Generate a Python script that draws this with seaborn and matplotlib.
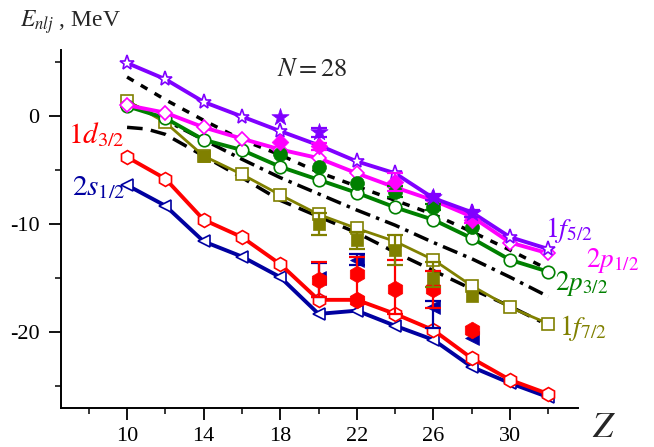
import numpy as np
import pandas as pd
import matplotlib
matplotlib.use("Agg")
import matplotlib.pyplot as plt
import seaborn as sns

# ---------------- data ----------------
Z = [10, 12, 14, 16, 18, 20, 22, 24, 26, 28, 30, 32]
E_1f52 = [4.9, 3.4, 1.3, -0.05, -1.4, -2.7, -4.2, -5.3, -7.6, -8.9, -11.2, -12.3]
E_2p12 = [1.0, 0.3, -1.05, -2.1, -3.1, -3.9, -5.3, -6.6, -7.8, -9.3, -11.7, -12.7]
E_2p32 = [0.9, -0.2, -2.2, -3.15, -4.7, -5.9, -7.1, -8.45, -9.6, -11.3, -13.3, -14.4]
E_1f72 = [1.4, -0.6, -3.7, -5.4, -7.3, -9.1, -10.4, -11.6, -13.3, -15.7, -17.7, -19.2]
E_1d32 = [-3.8, -5.8, -9.6, -11.2, -13.7, -17.0, -17.0, -18.3, -19.8, -22.4, -24.4, -25.7]
E_2s12 = [-6.4, -8.3, -11.6, -13.0, -14.9, -18.3, -18.0, -19.4, -20.7, -23.2, -24.7, -26.0]

# black reference curves
Z_A = [10, 12, 14, 16, 18, 20, 22, 24, 26, 28, 30, 32]
E_A = [3.6, 1.5, -0.4, -2.2, -3.6, -5.2, -6.5, -7.8, -9.1, -10.7, -12.4, -14.2]
Z_B = [10, 12, 14, 16, 18, 20, 22, 24, 26, 28, 30, 32]
E_B = [1.3, -0.4, -2.2, -4.0, -5.7, -7.2, -8.7, -10.1, -11.7, -13.2, -14.9, -16.7]
Z_C = [10, 11, 12, 14, 16, 18, 20, 22, 24, 26, 28, 30, 31.6]
E_C = [-1.05, -1.2, -1.7, -3.7, -5.7, -7.8, -9.3, -10.8, -12.6, -14.3, -16.0, -17.6, -19.0]

# experimental points (value, lower err, upper err)
Zx_1f52 = [18, 20, 26, 28]
Ex_1f52 = [-0.1, -1.5, -7.5, -9.0]
lo_1f52 = [0, 0.4, 0.3, 0.3]
up_1f52 = [0, 0.4, 0.3, 0.3]

Zx_2p12 = [18, 20, 24, 28]
Ex_2p12 = [-2.4, -2.8, -6.1, -9.6]
lo_2p12 = [0, 0.3, 0.8, 0.3]
up_2p12 = [0, 0.3, 0.8, 0.3]

Zx_2p32 = [18, 20, 22, 24, 26, 28]
Ex_2p32 = [-3.55, -4.7, -6.2, -7.0, -8.4, -10.3]
lo_2p32 = [0, 0, 0, 0.5, 0.3, 0]
up_2p32 = [0, 0, 0, 0.5, 0.3, 0]

Zx_1f72 = [14, 20, 22, 24, 26, 28]
Ex_1f72 = [-3.7, -10.0, -11.5, -12.4, -15.0, -16.6]
lo_1f72 = [0, 1.0, 0.8, 1.4, 0.8, 0]
up_1f72 = [0, 1.0, 0.8, 1.4, 1.5, 0]

Zx_2s12 = [20, 22, 26, 28]
Ex_2s12 = [-15.0, -13.3, -17.7, -20.5]
lo_2s12 = [1.7, 0.5, 1.9, 0]
up_2s12 = [1.4, 0.5, 0.6, 0]

Zx_1d32 = [20, 22, 22, 24, 26, 28]
Ex_1d32 = [-15.2, -14.6, -17.0, -16.0, -16.0, -19.8]
lo_1d32 = [1.5, 2.4, 0, 2.3, 1.8, 0]
up_1d32 = [1.7, 1.6, 0, 2.7, 1.7, 0]

# ---------------- style ----------------
sns.set_style("ticks")
plt.rcParams['font.family'] = ['Liberation Serif', 'DejaVu Serif']
plt.rcParams['mathtext.fontset'] = 'stix'
plt.rcParams['axes.unicode_minus'] = False

W, H = 654, 447
fig = plt.figure(figsize=(W / 100, H / 100), dpi=100)
ax = fig.add_axes([61 / W, 1 - 408 / H, (578 - 61) / W, (408 - 50) / H])

c_pur, c_mag, c_grn = '#8000FF', '#FF00FF', '#008000'
c_olv, c_red, c_nav = '#808000', '#FF0000', '#0000A0'

# black dashed curves
sns.lineplot(x=Z_A, y=E_A, ax=ax, color='k', lw=2.5, ls=(0, (2.2, 2.4)), zorder=2)
sns.lineplot(x=Z_B, y=E_B, ax=ax, color='k', lw=2.5, ls=(0, (4.5, 1.8, 1.0, 1.8)), zorder=2)
sns.lineplot(x=Z_C, y=E_C, ax=ax, color='k', lw=2.5, ls=(0, (4.5, 2.4)), zorder=2)

theory = [
    (E_2s12, c_nav, '<', 9),
    (E_1d32, c_red, 'h', 10),
    (E_1f72, c_olv, 's', 8),
    (E_2p32, c_grn, 'o', 9),
    (E_2p12, c_mag, 'D', 7.5),
    (E_1f52, c_pur, '*', 11),
]
for E, c, m, ms in theory:
    lw = 2.0 if c == c_olv else 2.8
    sns.lineplot(x=Z, y=E, ax=ax, color=c, lw=lw, marker=m, markersize=ms,
                 mfc='white', mec=c, mew=1.2, zorder=3)

exp = [
    (Zx_2s12, Ex_2s12, lo_2s12, up_2s12, c_nav, '<', 10),
    (Zx_1d32, Ex_1d32, lo_1d32, up_1d32, c_red, 'h', 12),
    (Zx_1f72, Ex_1f72, lo_1f72, up_1f72, c_olv, 's', 9),
    (Zx_2p32, Ex_2p32, lo_2p32, up_2p32, c_grn, 'o', 10),
    (Zx_2p12, Ex_2p12, lo_2p12, up_2p12, c_mag, 'D', 8.5),
    (Zx_1f52, Ex_1f52, lo_1f52, up_1f52, c_pur, '*', 13),
]
for i, (zz, ee, lo, up, c, m, ms) in enumerate(exp):
    zz = np.array(zz, float); ee = np.array(ee, float)
    lo = np.array(lo, float); up = np.array(up, float)
    has = (lo > 0) | (up > 0)
    if has.any():
        ax.errorbar(zz[has], ee[has], yerr=[lo[has], up[has]], fmt='none',
                    ecolor=c, elinewidth=1.6, capsize=6, capthick=1.6, zorder=4 + i * 0.1)
    sns.scatterplot(x=zz, y=ee, ax=ax, color=c, marker=m, s=ms ** 2,
                    edgecolor=c, linewidth=0.5, zorder=4.05 + i * 0.1)

# ---------------- axes ----------------
ax.set_xlim(6.55, 33.55)
ax.set_ylim(-27.0, 6.1)
ax.set_xticks([10, 14, 18, 22, 26, 30])
ax.set_xticks([8, 12, 16, 20, 24, 28, 32], minor=True)
ax.set_yticks([0, -10, -20])
ax.set_yticks([5, -5, -15, -25], minor=True)
ax.tick_params(which='major', length=8.5, width=1.3, labelsize=16, colors='k')
ax.tick_params(which='minor', length=4.3, width=1.3)
ax.tick_params(axis='x', which='major', pad=5.5)
ax.tick_params(axis='y', which='major', pad=7)
for s in ['top', 'right']:
    ax.spines[s].set_visible(False)
for s in ['left', 'bottom']:
    ax.spines[s].set_linewidth(1.4)
    ax.spines[s].set_color('k')
ax.set_xlabel('')
ax.set_ylabel('')

def ftext(px, py, s, **kw):
    fig.text(px / W, 1 - py / H, s, va='baseline', ha='left', **kw)

ftext(20, 27, r'$E_{nlj}$ , MeV', fontsize=17)
ftext(277, 76, r'$N = 28$', fontsize=19)
ftext(68, 143, r'$1d_{3/2}$', fontsize=21, color=c_red)
ftext(72, 195, r'$2s_{1/2}$', fontsize=21, color=c_nav)
ftext(545, 237, r'$1f_{5/2}$', fontsize=20, color=c_pur)
ftext(586, 267, r'$2p_{1/2}$', fontsize=19.5, color=c_mag)
ftext(555, 290, r'$2p_{3/2}$', fontsize=19.5, color=c_grn)
ftext(559, 335, r'$1f_{7/2}$', fontsize=20, color=c_olv)
ftext(592, 437, r'$Z$', fontsize=26)

fig.savefig('out.png', dpi=100)
